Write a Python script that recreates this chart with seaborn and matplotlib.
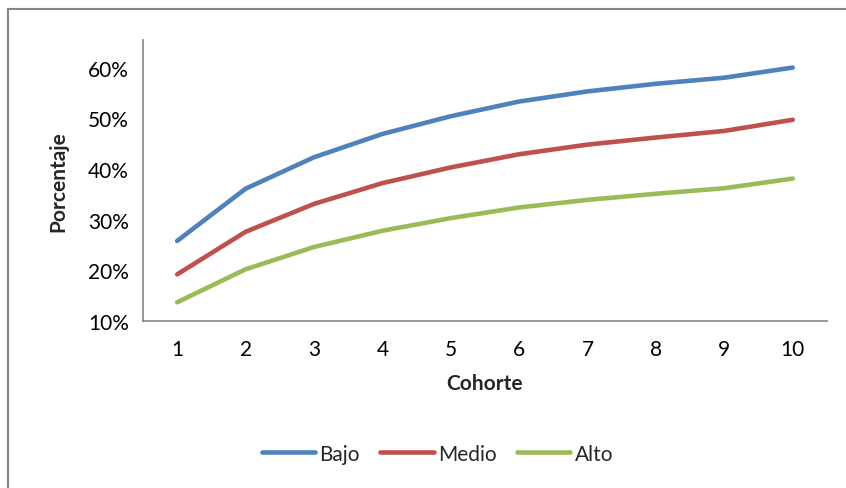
import numpy as np
import pandas as pd
import matplotlib
matplotlib.use("Agg")
import matplotlib.pyplot as plt
import seaborn as sns
from matplotlib.patches import Rectangle

# data
cohorte = [1, 2, 3, 4, 5, 6, 7, 8, 9, 10]
bajo = [25.8, 36.1, 42.3, 46.9, 50.4, 53.3, 55.3, 56.8, 58.0, 60.0]
medio = [19.2, 27.6, 33.1, 37.2, 40.3, 42.9, 44.8, 46.2, 47.5, 49.7]
alto = [13.7, 20.2, 24.6, 27.8, 30.3, 32.4, 33.9, 35.1, 36.2, 38.1]
series = ["Bajo", "Medio", "Alto"]
colores = ["#4F81BD", "#C0504D", "#9BBB59"]
yticks = [10, 20, 30, 40, 50, 60]

df = pd.DataFrame({
    "Cohorte": cohorte * 3,
    "Porcentaje": bajo + medio + alto,
    "Nivel": ["Bajo"] * 10 + ["Medio"] * 10 + ["Alto"] * 10,
})

sns.set_style("white")
plt.rcParams["font.family"] = ["Lato", "DejaVu Sans"]
gris = "#868686"
fs = 15

fig = plt.figure(figsize=(8.46, 4.89), dpi=100)
ax = fig.add_axes([0.169, 0.3415, 0.8085, 0.5753])

sns.lineplot(data=df, x="Cohorte", y="Porcentaje", hue="Nivel", hue_order=series,
             palette=colores, linewidth=3.3, ax=ax, legend=False,
             solid_capstyle="round")

ax.set_xlim(0.5, 10.5)
ax.set_ylim(10, 65.5)
ax.set_yticks(yticks)
ax.set_yticklabels([f"{v}%" for v in yticks])
ax.set_xticks(cohorte)
ax.set_xticklabels([str(c) for c in cohorte])
ax.set_xticks(np.arange(0.5, 11, 1), minor=True)
ax.tick_params(axis="x", which="major", length=0, pad=13, labelsize=fs, colors="black")
ax.tick_params(axis="x", which="minor", length=6, width=1.2, color=gris, direction="out")
ax.tick_params(axis="y", length=6, width=1.2, color=gris, labelsize=fs, pad=4, labelcolor="black")

for s in ["top", "right"]:
    ax.spines[s].set_visible(False)
for s in ["left", "bottom"]:
    ax.spines[s].set_color(gris)
    ax.spines[s].set_linewidth(1.2)

ax.set_xlabel("Cohorte", fontsize=fs, fontweight="bold", labelpad=10)
ax.set_ylabel("Porcentaje", fontsize=fs, fontweight="bold", labelpad=14)

handles = [plt.Line2D([0], [0], color=c, lw=3.3, solid_capstyle="round") for c in colores]
fig.legend(handles, series, loc="center", bbox_to_anchor=(0.517, 0.07), ncol=3,
           frameon=False, fontsize=fs, handlelength=2.55, handletextpad=0.2,
           columnspacing=1.0)

fig.patches.append(Rectangle((8 / 846, -0.05), 1.0, 1 - 10 / 489 + 0.05,
                             transform=fig.transFigure, fill=False,
                             edgecolor=gris, linewidth=1.5))

fig.savefig("out.png", dpi=100)
